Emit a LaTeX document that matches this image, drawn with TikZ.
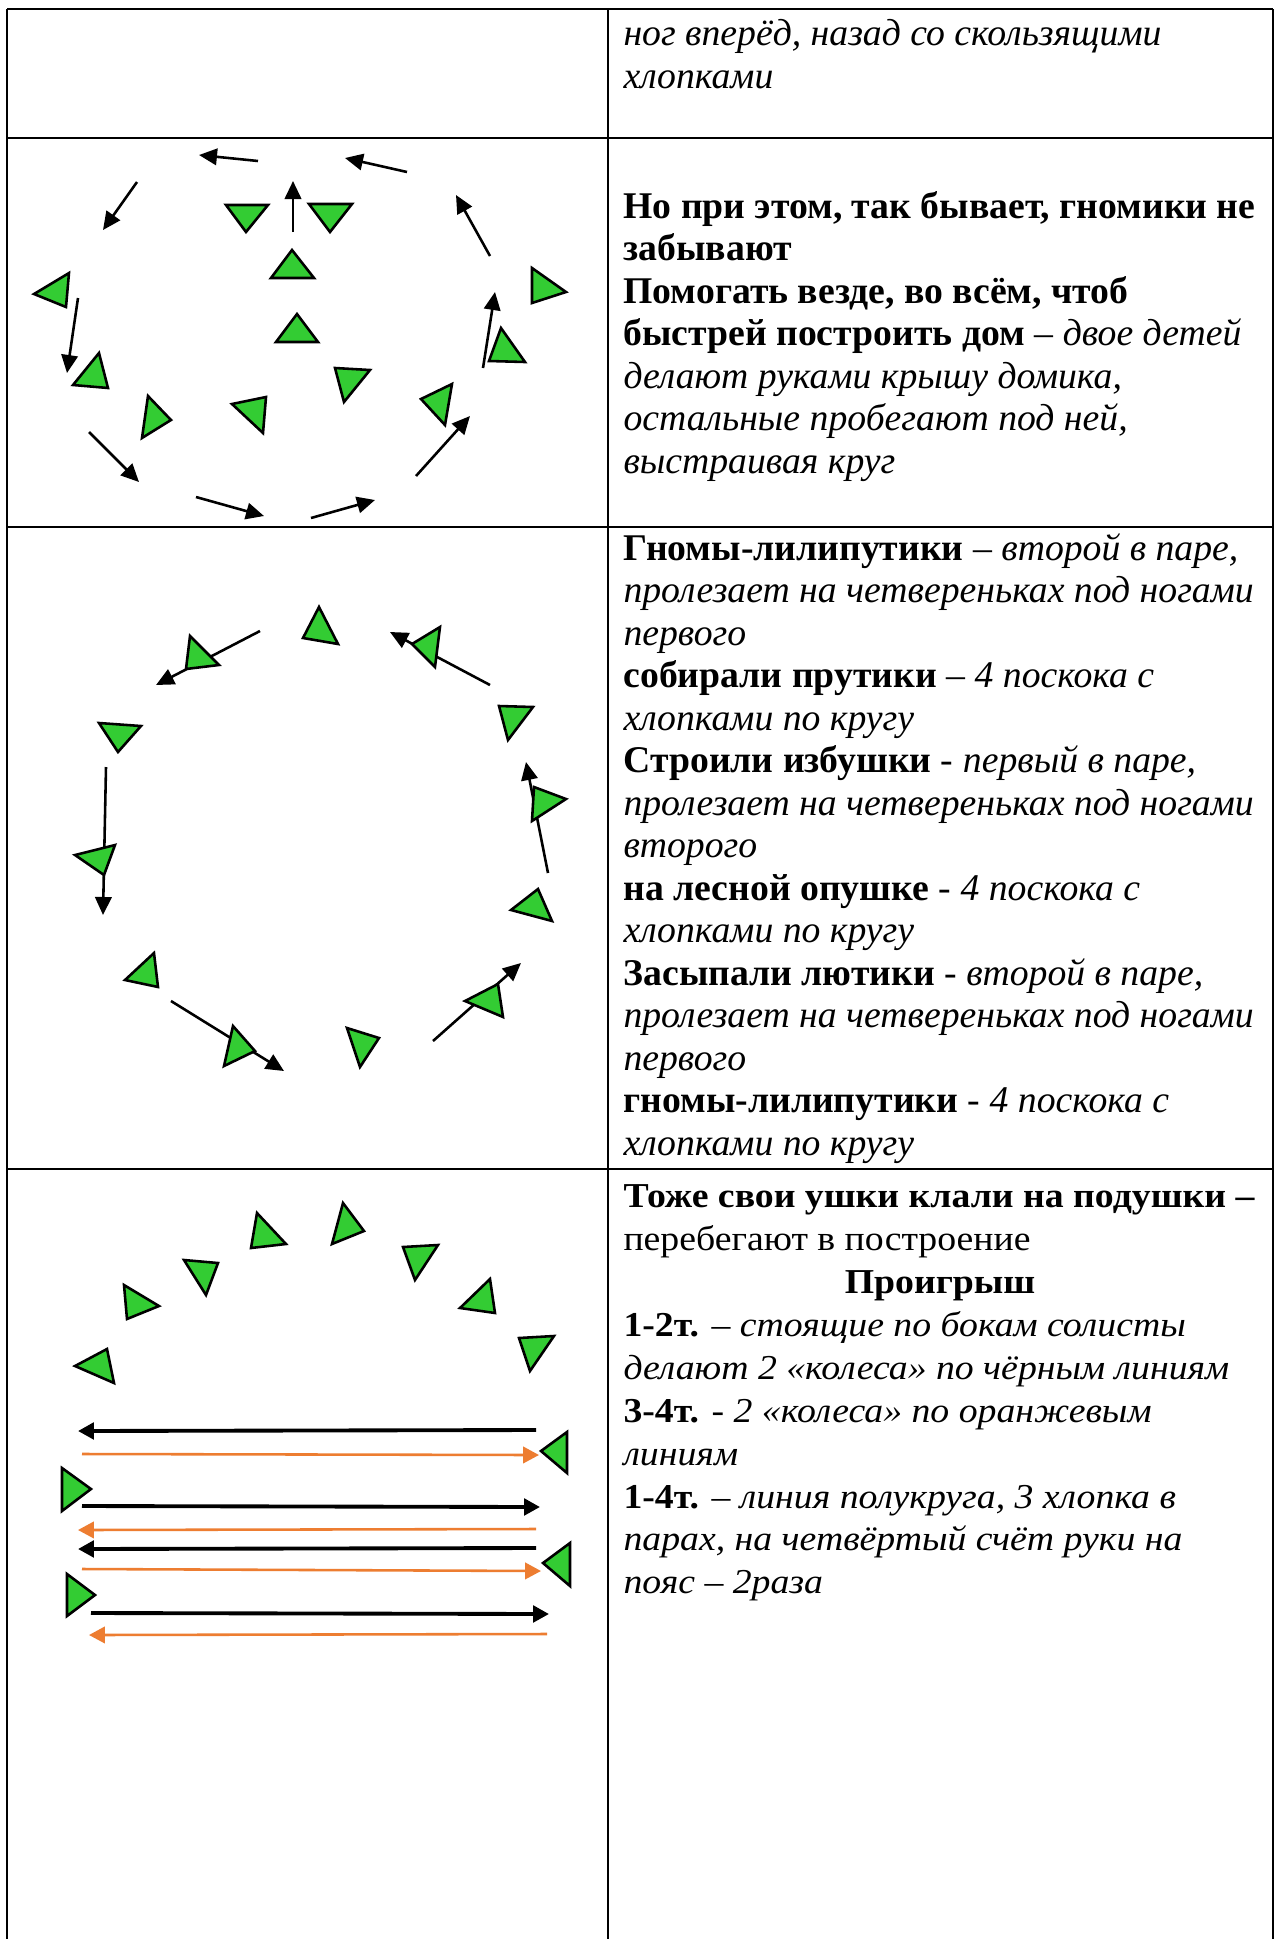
\documentclass[tikz,border=0pt]{standalone}
\usepackage{fontspec}
\setmainfont{Liberation Serif}
\newfontfamily\wideserif[FakeStretch=1.08]{Liberation Serif}
\usetikzlibrary{arrows.meta}
\definecolor{grn}{RGB}{51,204,51}
\definecolor{org}{RGB}{237,125,49}
\newcommand\txtA{\fontsize{14.67pt}{16.5pt}\selectfont}
\newcommand\txtB{\wideserif\fontsize{13.6pt}{16.3pt}\selectfont}
\tikzset{
  tri/.style={draw=black, fill=grn, line width=1pt, line join=miter},
  arr/.style={line width=1pt, -{Triangle[length=7pt,width=6.4pt]}},
  barr/.style={line width=1.5pt, -{Triangle[length=6.2pt,width=6.4pt]}},
  oarr/.style={draw=org, line width=1pt, -{Triangle[length=6.2pt,width=6.4pt,fill=org]}},
  gridline/.style={line width=0.9pt},
  ta/.style={inner sep=0pt, anchor=base west, font=\txtA},
  tb/.style={inner sep=0pt, anchor=base west, font=\txtB},
}
\begin{document}
\begin{tikzpicture}[x=0.389pt,y=-0.389pt]
\useasboundingbox[fill=white] (0,0) rectangle (1275,1939);
% table
\draw[gridline] (7,9) -- (1273,9);
\draw[gridline] (7,9) -- (7,1939);
\draw[gridline] (608,9) -- (608,1939);
\draw[gridline] (1273,9) -- (1273,1939);
\draw[gridline] (7,138) -- (1273,138);
\draw[gridline] (7,527) -- (1273,527);
\draw[gridline] (7,1169) -- (1273,1169);

% ---------- row 1 text
\node[ta] (r1a) at (623,45) {\textit{ног вперёд, назад со скользящими}};
\node[ta] (r1b) at (623,88) {\textit{хлопками}};

% ---------- row 2 diagram
\draw[arr] (258,161) -- (199,155);
\draw[arr] (407,172) -- (345,158);
\draw[arr] (137,182) -- (103,230);
\draw[arr] (293,232) -- (293,181);
\draw[arr] (490,256) -- (456,195);
\draw[arr] (78,298) -- (67,373);
\draw[arr] (483,368) -- (495,292);
\draw[arr] (89,432) -- (139,482);
\draw[arr] (416,476) -- (470,416);
\draw[arr] (196,497) -- (264,516);
\draw[arr] (311,518) -- (375,500);
\draw[tri] (226,205) -- (268,205) -- (246,232) -- cycle;
\draw[tri] (309,204) -- (352,204) -- (330,232) -- cycle;
\draw[tri] (292,250) -- (271,278) -- (314,278) -- cycle;
\draw[tri] (297,314) -- (276,342) -- (318,342) -- cycle;
\draw[tri] (69,273) -- (34,294) -- (66,307) -- cycle;
\draw[tri] (532,268) -- (566,292) -- (532,303) -- cycle;
\draw[tri] (99,353) -- (73,385) -- (108,388) -- cycle;
\draw[tri] (148,396) -- (171,420) -- (142,438) -- cycle;
\draw[tri] (232,404) -- (266,397) -- (263,433) -- cycle;
\draw[tri] (335,368) -- (370,370) -- (344,402) -- cycle;
\draw[tri] (421,399) -- (452,384) -- (445,425) -- cycle;
\draw[tri] (501,328) -- (489,361) -- (525,362) -- cycle;

% ---------- row 2 text
\node[ta] (r2a) at (623,218) {\textbf{Но при этом, так бывает, гномики не}};
\node[ta] (r2b) at (623,260.5) {\textbf{забывают}};
\node[ta] (r2c) at (623,303) {\textbf{Помогать везде, во всём, чтоб}};
\node[ta] (r2d) at (623,345.5) {\textbf{быстрей построить дом} – \textit{двое детей}};
\node[ta] (r2e) at (623,388) {\textit{делают руками крышу домика,}};
\node[ta] (r2f) at (623,430.5) {\textit{остальные пробегают под ней,}};
\node[ta] (r2g) at (623,473) {\textit{выстраивая круг}};

% ---------- row 3 diagram
\draw[arr] (260,631) -- (156,685);
\draw[arr] (490,685) -- (390,632);
\draw[arr] (106,767) -- (103,915);
\draw[arr] (548,873) -- (526,762);
\draw[arr] (171,1001) -- (284,1071);
\draw[arr] (433,1041) -- (521,963);
\draw[tri] (319,607) -- (303,638) -- (338,644) -- cycle;
\draw[tri] (190,636) -- (219,665) -- (186,669) -- cycle;
\draw[tri] (440,627) -- (412,644) -- (435,667) -- cycle;
\draw[tri] (99,723) -- (141,726) -- (118,752) -- cycle;
\draw[tri] (499,706) -- (533,707) -- (508,740) -- cycle;
\draw[tri] (534,787) -- (566,799) -- (532,821) -- cycle;
\draw[tri] (75,855) -- (115,845) -- (104,875) -- cycle;
\draw[tri] (538,889) -- (552,921) -- (511,910) -- cycle;
\draw[tri] (154,953) -- (125,980) -- (158,987) -- cycle;
\draw[tri] (233,1026) -- (255,1051) -- (224,1066) -- cycle;
\draw[tri] (347,1028) -- (379,1038) -- (360,1067) -- cycle;
\draw[tri] (498,984) -- (465,1001) -- (503,1017) -- cycle;

% ---------- row 3 text
\node[ta] (r3a) at (623,560) {\textbf{Гномы-лилипутики} – \textit{второй в паре,}};
\node[ta] (r3b) at (623,602.5) {\textit{пролезает на четвереньках под ногами}};
\node[ta] (r3c) at (623,645) {\textit{первого}};
\node[ta] (r3d) at (623,687.5) {\textbf{собирали прутики} – \textit{4 поскока с}};
\node[ta] (r3e) at (623,730) {\textit{хлопками по кругу}};
\node[ta] (r3f) at (623,772.5) {\textbf{Строили избушки} - \textit{первый в паре,}};
\node[ta] (r3g) at (623,815) {\textit{пролезает на четвереньках под ногами}};
\node[ta] (r3h) at (623,857.5) {\textit{второго}};
\node[ta] (r3i) at (623,900) {\textbf{на лесной опушке} - \textit{4 поскока с}};
\node[ta] (r3j) at (623,942.5) {\textit{хлопками по кругу}};
\node[ta] (r3k) at (623,985) {\textbf{Засыпали лютики} - \textit{второй в паре,}};
\node[ta] (r3l) at (623,1027.5) {\textit{пролезает на четвереньках под ногами}};
\node[ta] (r3m) at (623,1070) {\textit{первого}};
\node[ta] (r3n) at (623,1112.5) {\textbf{гномы-лилипутики} - \textit{4 поскока с}};
\node[ta] (r3o) at (623,1155) {\textit{хлопками по кругу}};

% ---------- row 4 diagram
\draw[tri] (343,1203) -- (364,1231) -- (332,1244) -- cycle;
\draw[tri] (257,1213) -- (286,1244) -- (251,1248) -- cycle;
\draw[tri] (184,1260) -- (218,1263) -- (206,1295) -- cycle;
\draw[tri] (403,1247) -- (438,1245) -- (415,1280) -- cycle;
\draw[tri] (124,1285) -- (159,1306) -- (127,1319) -- cycle;
\draw[tri] (490,1279) -- (460,1308) -- (495,1313) -- cycle;
\draw[tri] (107,1349) -- (75,1366) -- (114,1383) -- cycle;
\draw[tri] (519,1338) -- (554,1336) -- (530,1371) -- cycle;
\draw[tri] (567,1432) -- (541,1451) -- (567,1473) -- cycle;
\draw[tri] (62,1468) -- (91,1489) -- (62,1511) -- cycle;
\draw[tri] (570,1543) -- (543,1563) -- (570,1586) -- cycle;
\draw[tri] (67,1574) -- (95,1595) -- (67,1616) -- cycle;
\draw[barr] (536,1430) -- (78,1431);
\draw[oarr] (82,1454) -- (539,1455);
\draw[barr] (82,1506) -- (540,1507);
\draw[oarr] (536,1529) -- (78,1530);
\draw[barr] (536,1548) -- (78,1549);
\draw[oarr] (82,1569) -- (541,1571);
\draw[barr] (91,1613) -- (549,1614);
\draw[oarr] (547,1634) -- (89,1635);

% ---------- row 4 text
\node[tb] (r4a) at (623,1207) {\textbf{Тоже свои ушки клали на подушки –}};
\node[tb] (r4b) at (623,1250) {перебегают в построение};
\node[tb, anchor=base] (r4c) at (940,1293) {\textbf{Проигрыш}};
\node[tb] (r4d) at (623,1336) {\textbf{1-2т.} – \textit{стоящие по бокам солисты}};
\node[tb] (r4e) at (623,1379) {\textit{делают 2 «колеса» по чёрным линиям}};
\node[tb] (r4f) at (623,1422) {\textbf{3-4т.} - \textit{2 «колеса» по оранжевым}};
\node[tb] (r4g) at (623,1465) {\textit{линиям}};
\node[tb] (r4h) at (623,1508) {\textbf{1-4т.} – \textit{линия полукруга, 3 хлопка в}};
\node[tb] (r4i) at (623,1550) {\textit{парах, на четвёртый счёт руки на}};
\node[tb] (r4j) at (623,1593) {\textit{пояс – 2раза}};
\end{tikzpicture}
\end{document}
